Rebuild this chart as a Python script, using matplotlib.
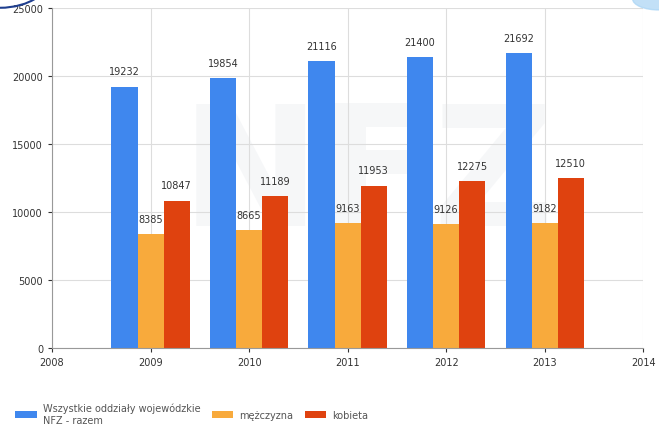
import matplotlib.pyplot as plt
import numpy as np
from matplotlib.patches import Arc, Ellipse

years = [2009, 2010, 2011, 2012, 2013]
razem = [19232, 19854, 21116, 21400, 21692]
mezczyzna = [8385, 8665, 9163, 9126, 9182]
kobieta = [10847, 11189, 11953, 12275, 12510]

series = [
    ("Wszystkie oddziały wojewódzkie\nNFZ - razem", razem, "#3f87ee"),
    ("mężczyzna", mezczyzna, "#f8aa3c"),
    ("kobieta", kobieta, "#df420f"),
]

plt.rcParams["font.family"] = ["Liberation Sans Narrow", "DejaVu Sans"]

fig = plt.figure(figsize=(6.59, 4.39), dpi=100)
ax = fig.add_axes([0.079, 0.205, 0.897, 0.774])

# faint watermark behind the bars
ax.text(2011.2, 12500, "NFZ", fontsize=120, color="#eef0f3", alpha=0.5,
        ha="center", va="center", fontweight="bold", zorder=0)

width = 0.265
x = np.array(years, dtype=float)
handles = []
for i, (label, vals, color) in enumerate(series):
    pos = x + (i - 1) * width
    h = ax.bar(pos, vals, width=width, color=color, label=label, zorder=2)
    handles.append(h)
    for px, v in zip(pos, vals):
        ax.text(px, v + 750, str(v), ha="center", va="bottom", fontsize=7,
                color="#333333", zorder=3)

ax.set_xlim(2008, 2014)
ax.set_ylim(0, 25000)
ax.set_xticks(range(2008, 2015))
ax.set_yticks(range(0, 25001, 5000))
ax.tick_params(labelsize=7, colors="#333333", length=3, width=0.8)
ax.grid(True, color="#dddddd", lw=0.8, zorder=0)
ax.set_axisbelow(True)
for side in ["top", "right"]:
    ax.spines[side].set_visible(False)
for side in ["left", "bottom"]:
    ax.spines[side].set_color("#999999")

leg = fig.legend(handles=handles, loc="lower left", bbox_to_anchor=(0.01, 0.01),
                 ncol=3, frameon=False, fontsize=7, handlelength=2.2,
                 handleheight=0.8, columnspacing=1.2, handletextpad=0.6)
for t in leg.get_texts():
    t.set_color("#555555")

# corner decorations
fig.patches.append(Arc((0.0, 1.06), 0.16, 0.16, theta1=270, theta2=360,
                       transform=fig.transFigure, color="#1f3f8f", lw=1.5))
fig.patches.append(Ellipse((1.0, 1.0), 0.08, 0.05, transform=fig.transFigure,
                           color="#a8d4f5", alpha=0.7))

fig.savefig("out.png", dpi=100)
